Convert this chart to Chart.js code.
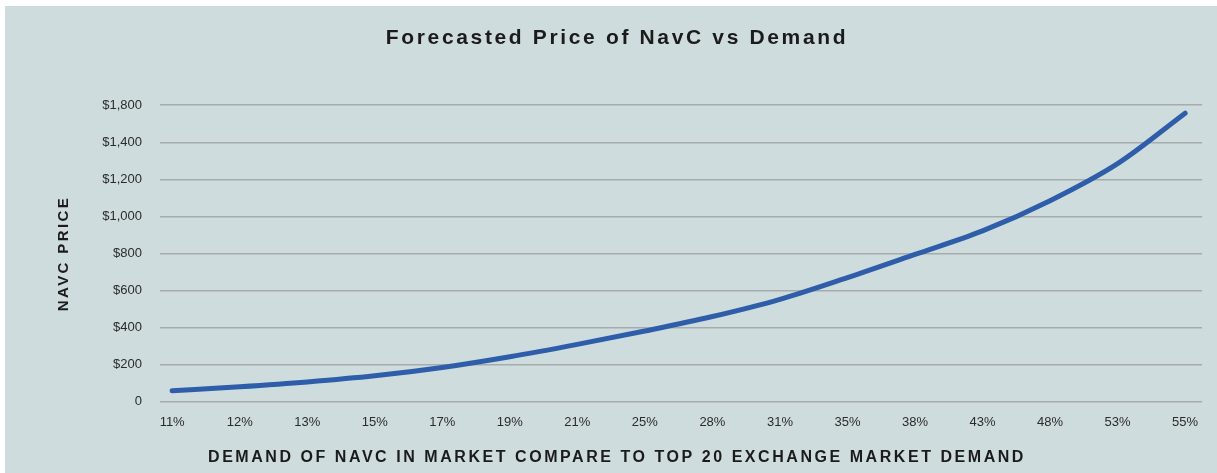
<!DOCTYPE html>
<html>
<head>
<meta charset="utf-8">
<script src="https://cdn.jsdelivr.net/npm/chart.js@4/dist/chart.umd.min.js"></script>
<style>
  html, body { margin: 0; padding: 0; background: #fff; overflow: hidden; }
  #wrap { position: absolute; left: 5px; top: 6px; width: 1212px; height: 467px; background: #cfdcdd; }
</style>
</head>
<body>
<div id="wrap"><canvas id="priceChart"></canvas></div>
<script>
// demand share (x categories) and forecast price (y)
const demandLabels = ['11%', '12%', '13%', '15%', '17%', '19%', '21%', '25%', '28%', '31%', '35%', '38%', '43%', '48%', '53%', '55%'];
const priceValues = [59, 81, 107, 140, 185, 243, 310, 382, 460, 553, 670, 795, 922, 1085, 1285, 1557];
// y tick labels as printed on the original (top one reads $1,800)
const priceTickLabels = ['0', '$200', '$400', '$600', '$800', '$1,000', '$1,200', '$1,400', '$1,800'];

const textColor = '#1b1b1b';
const fontFamily = 'Liberation Sans, Arial, sans-serif';
const titleSpacing = {
    'Forecasted Price of NavC vs Demand': '2.65px',
    'DEMAND OF NAVC IN MARKET COMPARE TO TOP 20 EXCHANGE MARKET DEMAND': '2.55px'
};

// letter spacing for the titles only
const spacedTitles = {
    id: 'spacedTitles',
    beforeDraw(chart) {
        const wrap = (obj, key, spacing) => {
            if (!obj || obj['_sp_' + key]) return;
            const orig = obj[key].bind(obj);
            obj[key] = function (...args) {
                const c = chart.ctx;
                c.save();
                c.letterSpacing = spacing;
                orig(...args);
                c.restore();
            };
            obj['_sp_' + key] = true;
        };
        wrap(chart.scales.y, 'drawTitle', '2.4px');
        chart.boxes.forEach((b) => {
            const t = b.options && b.options.text;
            if (typeof t === 'string' && titleSpacing[t]) wrap(b, 'draw', titleSpacing[t]);
        });
    }
};

const ctx = document.getElementById('priceChart').getContext('2d');
new Chart(ctx, {
    type: 'line',
    data: {
        datasets: [{
            label: 'NavC price',
            data: priceValues.map((v, i) => ({ x: i, y: v })),
            borderColor: '#2e5ea9',
            borderWidth: 5,
            borderCapStyle: 'round',
            pointRadius: 0,
            cubicInterpolationMode: 'monotone',
            fill: false
        }]
    },
    options: {
        responsive: true,
        maintainAspectRatio: false,
        animation: false,
        layout: { padding: { left: 12, right: 0, top: 0, bottom: 0 } },
        plugins: {
            legend: { display: false },
            tooltip: { enabled: false },
            title: {
                display: true,
                text: 'Forecasted Price of NavC vs Demand',
                color: textColor,
                font: { family: fontFamily, size: 21, weight: 'bold' },
                padding: { top: 20, bottom: 54 }
            },
            subtitle: {
                display: true,
                position: 'bottom',
                text: 'DEMAND OF NAVC IN MARKET COMPARE TO TOP 20 EXCHANGE MARKET DEMAND',
                color: textColor,
                font: { family: fontFamily, size: 16, weight: 'bold' },
                padding: { top: 8, bottom: 6 }
            }
        },
        scales: {
            x: {
                type: 'linear',
                min: -0.18,
                max: 15.25,
                grid: { display: false },
                border: { display: false },
                ticks: {
                    stepSize: 1,
                    maxTicksLimit: 20,
                    includeBounds: false,
                    autoSkip: false,
                    maxRotation: 0,
                    padding: 5,
                    color: '#2b2b2b',
                    font: { family: fontFamily, size: 13 },
                    callback: (v) => demandLabels[v] ?? ''
                },
                afterFit: (s) => { s.height = 38; }
            },
            y: {
                min: 0,
                max: 1600,
                grid: { color: '#a6abab', lineWidth: 1.5, drawTicks: false },
                border: { display: false },
                ticks: {
                    stepSize: 200,
                    padding: 18,
                    color: '#2b2b2b',
                    font: { family: fontFamily, size: 13 },
                    callback: (v) => priceTickLabels[v / 200]
                },
                title: {
                    display: true,
                    text: 'NAVC PRICE',
                    color: textColor,
                    font: { family: fontFamily, size: 15, weight: 'bold' },
                    padding: { top: 38, bottom: 0 }
                },
                afterFit: (s) => { s.width = 143; }
            },
            yRight: {
                position: 'right',
                grid: { display: false },
                border: { display: false },
                ticks: { display: false },
                afterFit: (s) => { s.width = 15; }
            }
        }
    },
    plugins: [spacedTitles]
});
</script>
</body>
</html>
